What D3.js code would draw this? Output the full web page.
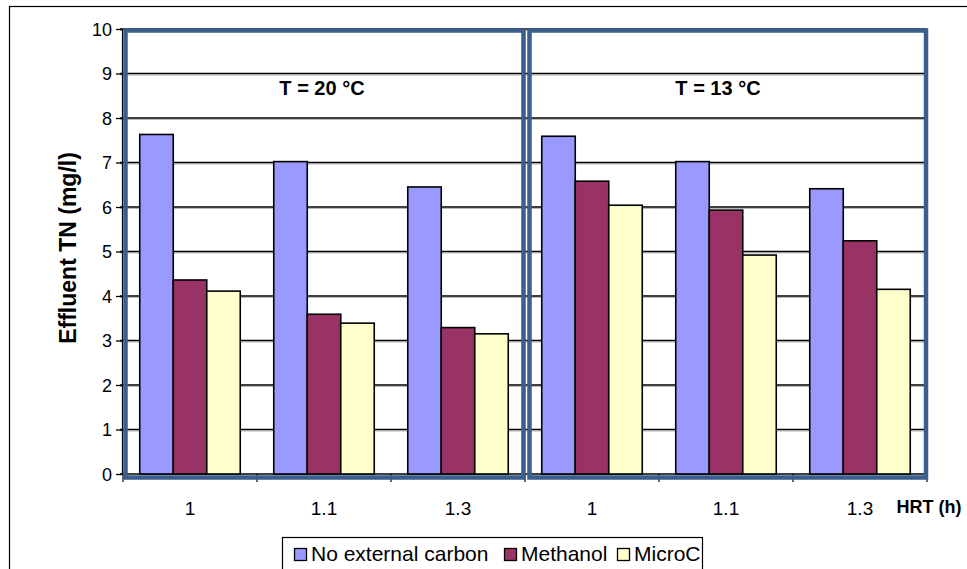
<!DOCTYPE html>
<html><head><meta charset="utf-8">
<script src="https://cdn.jsdelivr.net/npm/d3@7"></script>
<style>
html,body{margin:0;padding:0;background:#fff;}
svg{display:block;font-family:"Liberation Sans",Arial,sans-serif;}
</style></head>
<body>
<svg id="chart" width="967" height="569"></svg>
<script>
const categories = ["1", "1.1", "1.3", "1", "1.1", "1.3"];
const seriesNames = ["No external carbon", "Methanol", "MicroC"];
const noExternalCarbon = [7.63, 7.02, 6.45, 7.59, 7.02, 6.41];
const methanol = [4.36, 3.59, 3.29, 6.58, 5.93, 5.24];
const microC = [4.11, 3.39, 3.15, 6.04, 4.92, 4.15];
const seriesColors = ["#9999FF", "#993366", "#FFFFCC"];
const yTicks = [0, 1, 2, 3, 4, 5, 6, 7, 8, 9, 10];
const panelTitles = ["T = 20 °C", "T = 13 °C"];
const yTitle = "Effluent TN (mg/l)";
const xTitle = "HRT (h)";

const seriesValues = [noExternalCarbon, methanol, microC];
const svg = d3.select("#chart");
const FONT = "'Liberation Sans', Arial, sans-serif";

// outer border
svg.append("rect").attr("x", 9.5).attr("y", 6.5).attr("width", 970).attr("height", 580)
  .attr("fill", "none").attr("stroke", "#000").attr("stroke-width", 1.2);

const y = d3.scaleLinear().domain([0, 10]).range([474, 29]);
const x = d3.scaleBand().domain(d3.range(categories.length)).range([123, 927])
  .paddingInner(0.25).paddingOuter(0.125);
const step = x.step();
const x0 = x.range()[0];
const xs = d3.scaleBand().domain(d3.range(seriesNames.length)).range([0, x.bandwidth()]);

// gridlines
const gridVals = yTicks.filter(d => d > 0);
svg.append("g").selectAll("line").data(gridVals).join("line")
  .attr("x1", 120).attr("x2", 927)
  .attr("y1", d => y(d) + 1.5).attr("y2", d => y(d) + 1.5)
  .attr("stroke", "#b8b8b8").attr("stroke-width", 1);
svg.append("g").selectAll("line").data(gridVals).join("line")
  .attr("x1", 120).attr("x2", 927)
  .attr("y1", d => y(d)).attr("y2", d => y(d))
  .attr("stroke", "#000").attr("stroke-width", 1.5);

// y axis
const yAxis = d3.axisLeft(y).tickValues(yTicks).tickSize(6).tickPadding(4);
const gy = svg.append("g").attr("transform", "translate(122,0)").call(yAxis);
gy.select(".domain").attr("stroke", "#000").attr("stroke-width", 1.2);
gy.selectAll(".tick line").attr("stroke", "#000").attr("stroke-width", 1.3);
gy.selectAll(".tick text").attr("font-size", 18).attr("fill", "#000")
  .attr("font-family", FONT).attr("dy", "0.36em");

// x axis line + boundary ticks
const boundaries = d3.range(categories.length + 1).map(k => x0 + k * step);
svg.append("line").attr("x1", 120).attr("x2", 927).attr("y1", y(0)).attr("y2", y(0))
  .attr("stroke", "#000").attr("stroke-width", 1.5);
svg.append("g").selectAll("line").data(boundaries).join("line")
  .attr("x1", d => d).attr("x2", d => d).attr("y1", y(0)).attr("y2", y(0) + 8)
  .attr("stroke", "#000").attr("stroke-width", 1.2);

// bars
const groups = svg.append("g").selectAll("g").data(categories.map((c, i) => i)).join("g")
  .attr("transform", i => `translate(${x(i)},0)`);
groups.selectAll("rect").data(i => seriesValues.map((s, j) => ({ j, v: s[i] }))).join("rect")
  .attr("x", d => xs(d.j)).attr("width", xs.bandwidth())
  .attr("y", d => y(d.v)).attr("height", d => y(0) - y(d.v))
  .attr("fill", d => seriesColors[d.j]).attr("stroke", "#000").attr("stroke-width", 1.6);

// category labels
svg.append("g").selectAll("text").data(categories).join("text")
  .attr("x", (c, i) => x(i) + x.bandwidth() / 2).attr("y", 515)
  .attr("text-anchor", "middle").attr("font-size", 19).attr("fill", "#000").text(c => c);

// panel borders
const panels = [[boundaries[0] + 2.5, boundaries[3] - 1.5], [boundaries[3] + 4.5, boundaries[6] - 1]];
svg.append("g").selectAll("rect").data(panels).join("rect")
  .attr("x", d => d[0]).attr("y", 30.5).attr("width", d => d[1] - d[0]).attr("height", 477.5 - 30.5)
  .attr("fill", "none").attr("stroke", "#3B5E8C").attr("stroke-width", 4.5);

// panel titles
const titleShift = [-2, -8];
svg.append("g").selectAll("text").data(panelTitles).join("text")
  .attr("x", (t, i) => (boundaries[i * 3] + boundaries[i * 3 + 3]) / 2 + titleShift[i])
  .attr("y", 95).attr("text-anchor", "middle").attr("font-size", 20).attr("font-weight", "bold")
  .attr("fill", "#000").text(t => t);

// y title
svg.append("text").attr("transform", "translate(76,248) rotate(-90)")
  .attr("text-anchor", "middle").attr("font-size", 23).attr("font-weight", "bold")
  .attr("fill", "#000").text(yTitle);

// x title
svg.append("text").attr("x", 929).attr("y", 513).attr("text-anchor", "middle")
  .attr("font-size", 18).attr("font-weight", "bold").attr("fill", "#000").text(xTitle);

// legend
const legend = svg.append("g");
legend.append("rect").attr("x", 282.5).attr("y", 537.5).attr("width", 420).attr("height", 40)
  .attr("fill", "#fff").attr("stroke", "#000").attr("stroke-width", 1.2);
const swatchX = [294, 504, 617];
const li = legend.selectAll("g").data(seriesNames).join("g")
  .attr("transform", (d, i) => `translate(${swatchX[i]},0)`);
li.append("rect").attr("x", 0.5).attr("y", 548.5).attr("width", 12).attr("height", 12)
  .attr("fill", (d, i) => seriesColors[i]).attr("stroke", "#000").attr("stroke-width", 1.3);
li.append("text").attr("x", 17).attr("y", 561).attr("font-size", 21).attr("fill", "#000").text(d => d);
</script>
</body></html>
